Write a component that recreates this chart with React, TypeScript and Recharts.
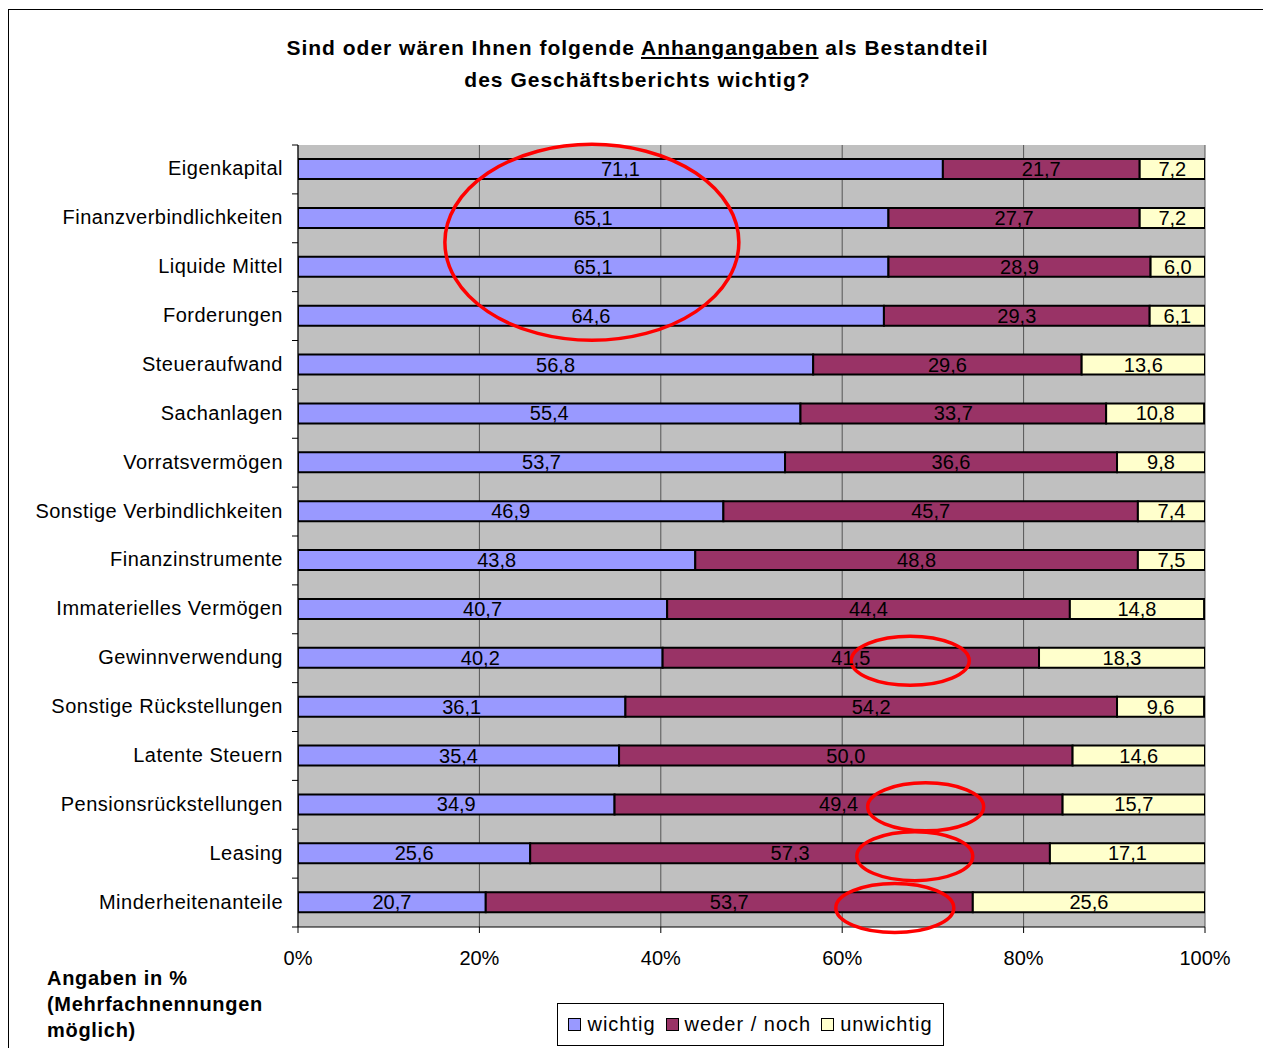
import React from 'react';
import { BarChart, Bar, XAxis, YAxis, CartesianGrid, LabelList, ReferenceDot } from 'recharts';

const categories = [
  'Eigenkapital', 'Finanzverbindlichkeiten', 'Liquide Mittel', 'Forderungen', 'Steueraufwand',
  'Sachanlagen', 'Vorratsvermögen', 'Sonstige Verbindlichkeiten', 'Finanzinstrumente',
  'Immaterielles Vermögen', 'Gewinnverwendung', 'Sonstige Rückstellungen', 'Latente Steuern',
  'Pensionsrückstellungen', 'Leasing', 'Minderheitenanteile',
];
const wichtig = [71.1, 65.1, 65.1, 64.6, 56.8, 55.4, 53.7, 46.9, 43.8, 40.7, 40.2, 36.1, 35.4, 34.9, 25.6, 20.7];
const wederNoch = [21.7, 27.7, 28.9, 29.3, 29.6, 33.7, 36.6, 45.7, 48.8, 44.4, 41.5, 54.2, 50.0, 49.4, 57.3, 53.7];
const unwichtig = [7.2, 7.2, 6.0, 6.1, 13.6, 10.8, 9.8, 7.4, 7.5, 14.8, 18.3, 9.6, 14.6, 15.7, 17.1, 25.6];
const xTicks = [0, 20, 40, 60, 80, 100];

const seriesNames = ['wichtig', 'weder / noch', 'unwichtig'];
const seriesColors = ['#9999FF', '#993366', '#FFFFCC'];

// annotation ellipses: [category, x-value, rx, ry, dy]
const highlights: [string, number, number, number, number][] = [
  ['Finanzverbindlichkeiten', 32.4, 147, 98, 24],
  ['Gewinnverwendung', 67.5, 59, 24.5, 2.5],
  ['Pensionsrückstellungen', 69.2, 58, 24, 2],
  ['Leasing', 68.0, 58, 24.5, 2.5],
  ['Minderheitenanteile', 65.8, 59, 24.5, 5.5],
];

const data = categories.map((c, i) => ({
  name: c,
  wichtig: wichtig[i],
  weder: wederNoch[i],
  unwichtig: unwichtig[i],
}));

const FONT = '"Liberation Sans", Arial, sans-serif';
const CHART_W = 1257;
const CHART_H = 1040;
const MARGIN = { top: 135, right: 61, bottom: 83, left: 9 };
const PLOT_H = CHART_H - MARGIN.top - MARGIN.bottom - 40;
const BAND = PLOT_H / categories.length;

const fmt = (v: any) => Number(v).toFixed(1).replace('.', ',');

const YTick = (props: any) => {
  const { x, y, payload, index } = props;
  const axisX = x + 15;
  return (
    <g>
      <text x={x} y={y} dy="0.3em" textAnchor="end" fontSize={20} fill="#000" fontFamily={FONT} letterSpacing={0.5}>
        {payload.value}
      </text>
      <line x1={axisX - 6} x2={axisX} y1={y - BAND / 2} y2={y - BAND / 2} stroke="#000" strokeWidth={1} />
      {index === categories.length - 1 && (
        <line x1={axisX - 6} x2={axisX} y1={y + BAND / 2} y2={y + BAND / 2} stroke="#000" strokeWidth={1} />
      )}
    </g>
  );
};

const LegendBox = () => (
  <div
    style={{
      position: 'absolute',
      left: 548,
      top: 993,
      boxSizing: 'border-box',
      width: 387,
      height: 43,
      border: '1px solid #000',
      background: '#fff',
      display: 'flex',
      alignItems: 'center',
      justifyContent: 'center',
      fontFamily: FONT,
      fontSize: 20,
      letterSpacing: 1,
      color: '#000',
    }}
  >
    {seriesNames.map((n, i) => (
      <span key={n} style={{ display: 'inline-flex', alignItems: 'center', marginRight: i < 2 ? 10 : 0 }}>
        <span
          style={{
            display: 'inline-block',
            width: 11,
            height: 11,
            border: '1px solid #000',
            background: seriesColors[i],
            marginRight: 6,
          }}
        />
        {n}
      </span>
    ))}
  </div>
);

export default function App() {
  return (
    <div
      style={{
        position: 'relative',
        width: CHART_W,
        height: 1060,
        marginTop: 1,
        border: '1px solid #000',
        background: '#fff',
        fontFamily: FONT,
      }}
    >
      <div
        style={{
          position: 'absolute',
          left: 0,
          top: 22,
          width: CHART_W,
          textAlign: 'center',
          fontWeight: 'bold',
          fontSize: 21,
          letterSpacing: 1,
          lineHeight: '32px',
          color: '#000',
        }}
      >
        Sind oder wären Ihnen folgende <span style={{ textDecoration: 'underline' }}>Anhangangaben</span> als Bestandteil
        <br />
        des Geschäftsberichts wichtig?
      </div>
      <div
        style={{
          position: 'absolute',
          left: 38,
          top: 955,
          fontWeight: 'bold',
          fontSize: 20,
          letterSpacing: 0.7,
          lineHeight: '26px',
          color: '#000',
        }}
      >
        Angaben in %
        <br />
        (Mehrfachnennungen
        <br />
        möglich)
      </div>
      <div style={{ position: 'absolute', left: 0, top: 0 }}>
        <BarChart width={CHART_W} height={CHART_H} data={data} layout="vertical" margin={MARGIN} barSize={20}>
          <CartesianGrid horizontal={false} vertical fill="#C0C0C0" stroke="#555" strokeWidth={1} />
          <XAxis
            type="number"
            domain={[0, 100]}
            ticks={xTicks}
            tickFormatter={(v: number) => `${v}%`}
            axisLine={{ stroke: '#000', strokeWidth: 1 }}
            tickLine={{ stroke: '#000' }}
            tickSize={6}
            tickMargin={18}
            height={40}
            tick={{ fontSize: 20, fill: '#000', fontFamily: FONT }}
            allowDataOverflow
          />
          <YAxis
            type="category"
            dataKey="name"
            width={280}
            axisLine={{ stroke: '#000', strokeWidth: 1 }}
            tickLine={false}
            tickSize={6}
            tickMargin={9}
            interval={0}
            tick={<YTick />}
          />
          <Bar dataKey="wichtig" name={seriesNames[0]} stackId="a" fill={seriesColors[0]} stroke="#000" strokeWidth={2} isAnimationActive={false}>
            <LabelList dataKey="wichtig" position="center" formatter={fmt} fill="#000" fontSize={20} fontFamily={FONT} />
          </Bar>
          <Bar dataKey="weder" name={seriesNames[1]} stackId="a" fill={seriesColors[1]} stroke="#000" strokeWidth={2} isAnimationActive={false}>
            <LabelList dataKey="weder" position="center" formatter={fmt} fill="#000" fontSize={20} fontFamily={FONT} />
          </Bar>
          <Bar dataKey="unwichtig" name={seriesNames[2]} stackId="a" fill={seriesColors[2]} stroke="#000" strokeWidth={2} isAnimationActive={false}>
            <LabelList dataKey="unwichtig" position="center" formatter={fmt} fill="#000" fontSize={20} fontFamily={FONT} />
          </Bar>
          {highlights.map(([cat, xv, rx, ry, dy]) => (
            <ReferenceDot
              key={cat}
              x={xv}
              y={cat}
              r={1}
              ifOverflow="visible"
              shape={(p: any) => (
                <ellipse cx={p.cx} cy={p.cy + dy} rx={rx} ry={ry} fill="none" stroke="#FF0000" strokeWidth={3.5} />
              )}
            />
          ))}
        </BarChart>
      </div>
      <LegendBox />
    </div>
  );
}
